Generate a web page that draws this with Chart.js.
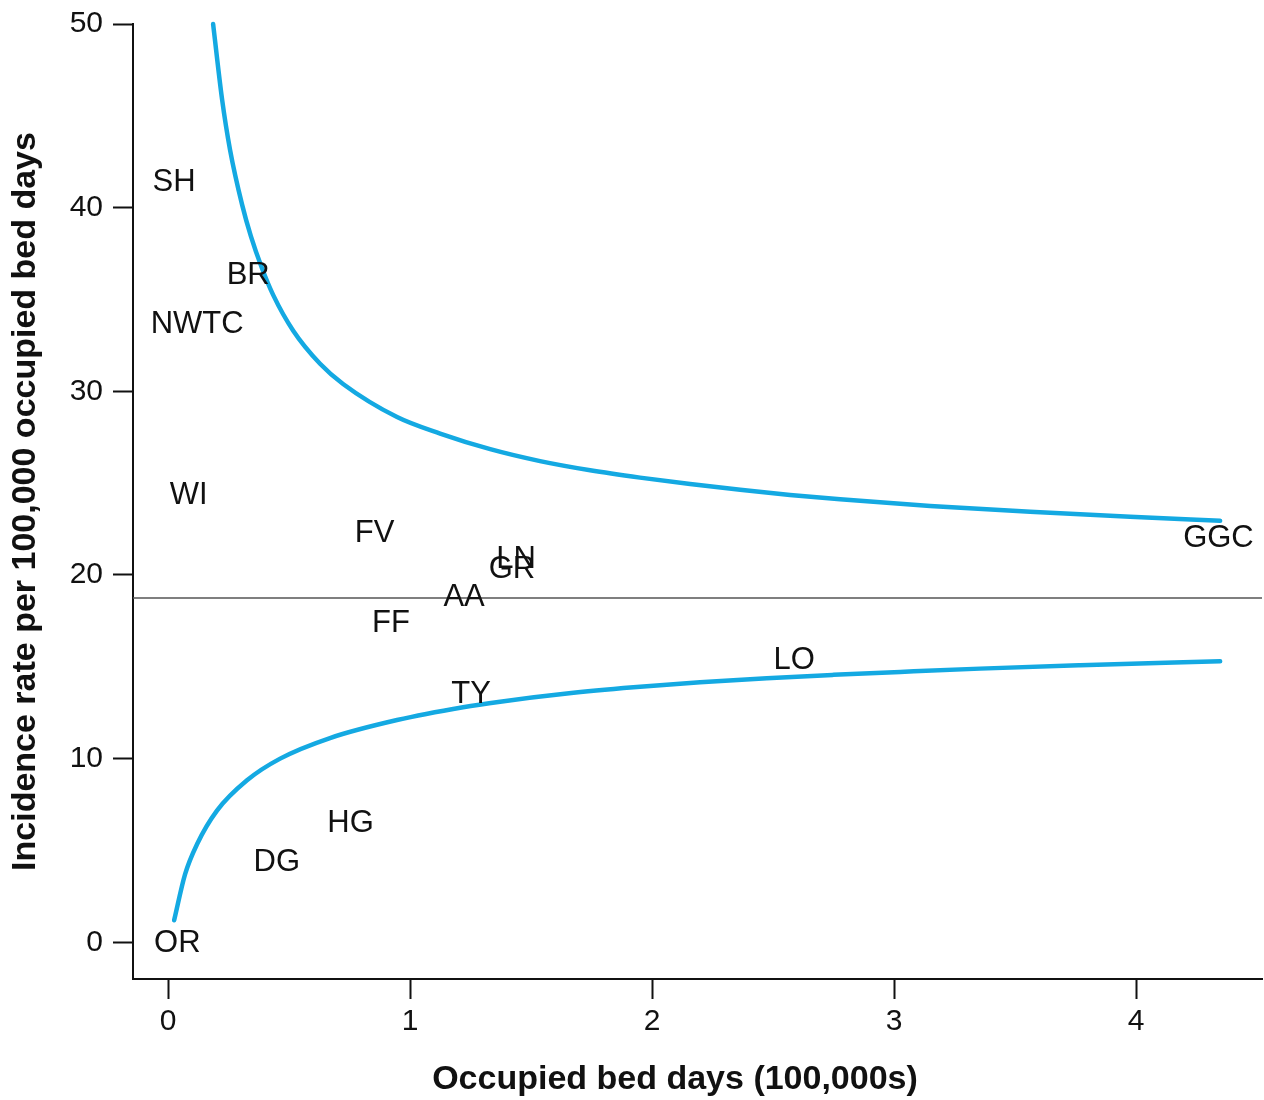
<!DOCTYPE html>
<html>
<head>
<meta charset="utf-8">
<script src="https://cdn.jsdelivr.net/npm/chart.js@4.4.1/dist/chart.umd.min.js"></script>
<style>
  html, body { margin: 0; padding: 0; background: #fff; }
  #wrap { width: 1264px; height: 1100px; }
</style>
</head>
<body>
<div id="wrap"><canvas id="funnel" width="1264" height="1100"></canvas></div>
<script>
// Hospital labels, occupied bed days (100,000s) and incidence rates
var hospitals = ['SH', 'BR', 'NWTC', 'WI', 'FV', 'LN', 'GR', 'AA', 'FF', 'GGC', 'LO', 'TY', 'HG', 'DG', 'OR'];
var bedDays = [0.025, 0.331, 0.12, 0.085, 0.853, 1.438, 1.421, 1.223, 0.921, 4.34, 2.587, 1.252, 0.754, 0.449, 0.038];
var rates = [41.45, 36.34, 33.67, 24.36, 22.3, 20.9, 20.36, 18.81, 17.39, 22.04, 15.38, 13.55, 6.55, 4.42, 0];

// Upper and lower limits
var upperX = [0.186, 0.223, 0.256, 0.306, 0.342, 0.388, 0.434, 0.517, 0.628, 0.723, 0.946, 1.124, 1.331, 1.537, 1.744, 1.95, 2.157, 2.364, 2.57, 2.777, 3.149, 3.562, 3.975, 4.347];
var upperY = [50, 45.9, 43.15, 40.15, 38.45, 36.7, 35.25, 33.3, 31.5, 30.4, 28.6, 27.7, 26.85, 26.2, 25.7, 25.3, 24.95, 24.64, 24.36, 24.12, 23.76, 23.44, 23.17, 22.95];
var lowerX = [0.025, 0.07, 0.12, 0.202, 0.326, 0.463, 0.669, 0.946, 1.219, 1.372, 1.648, 1.923, 2.198, 2.474, 2.75, 3.025, 3.355, 3.769, 4.347];
var lowerY = [1.2, 3.7, 5.35, 7.17, 8.82, 10.0, 11.12, 12.1, 12.8, 13.1, 13.54, 13.88, 14.16, 14.38, 14.56, 14.72, 14.9, 15.08, 15.3];

// Overall rate (horizontal line)
var meanRate = 18.74;

// Axis ranges and tick labels
var xMin = -0.145, xMax = 4.52;
var yMin = -2, yMax = 50;
var xTicks = [0, 1, 2, 3, 4];
var yTicks = [0, 10, 20, 30, 40, 50];
var xTitle = 'Occupied bed days (100,000s)';

var blue = '#14a9e2';
var fontFam = '"Liberation Sans", Arial, sans-serif';

function pts(xs, ys) {
    return xs.map(function (x, i) { return { x: x, y: ys[i] }; });
}

// Draws the hospital codes where the points are, and the x axis title
var labelPlugin = {
    id: 'hospitalLabels',
    afterDatasetsDraw: function (chart) {
        var ctx = chart.ctx;
        var meta = chart.getDatasetMeta(0);
        ctx.save();
        ctx.font = '31px ' + fontFam;
        ctx.fillStyle = '#111';
        ctx.textAlign = 'center';
        ctx.textBaseline = 'middle';
        meta.data.forEach(function (el, i) {
            ctx.fillText(hospitals[i], el.x, el.y + 1);
        });
        // x title sits a bit left of the plot centre in the original
        ctx.font = 'bold 34px ' + fontFam;
        ctx.fillText(xTitle, 675, 1080);
        ctx.restore();
    }
};

var ctx = document.getElementById('funnel').getContext('2d');
var chart = new Chart(ctx, {
    type: 'scatter',
    data: {
        datasets: [{
            label: 'Hospitals',
            data: pts(bedDays, rates),
            pointRadius: 0,
            showLine: false
        }, {
            label: 'Upper limit',
            data: pts(upperX, upperY),
            showLine: true,
            borderColor: blue,
            borderWidth: 4.5,
            borderCapStyle: 'round',
            pointRadius: 0,
            cubicInterpolationMode: 'monotone',
            clip: 6
        }, {
            label: 'Lower limit',
            data: pts(lowerX, lowerY),
            showLine: true,
            borderColor: blue,
            borderWidth: 4.5,
            borderCapStyle: 'round',
            pointRadius: 0,
            cubicInterpolationMode: 'monotone',
            clip: 6
        }, {
            label: 'Mean',
            data: [{ x: xMin, y: meanRate }, { x: xMax, y: meanRate }],
            showLine: true,
            borderColor: '#555',
            borderWidth: 1.5,
            pointRadius: 0
        }]
    },
    options: {
        responsive: false,
        animation: false,
        layout: { padding: { left: 0, right: 2, top: 24, bottom: 0 } },
        plugins: {
            legend: { display: false },
            tooltip: { enabled: false }
        },
        scales: {
            x: {
                type: 'linear',
                min: xMin,
                max: xMax,
                afterBuildTicks: function (scale) {
                    scale.ticks = xTicks.map(function (v) { return { value: v }; });
                },
                afterFit: function (scale) { scale.height = 121; },
                border: { display: true, color: '#111', width: 2 },
                grid: { drawOnChartArea: false, drawTicks: true, tickLength: 20, tickColor: '#111', tickWidth: 2 },
                ticks: {
                    color: '#111',
                    padding: 5,
                    maxRotation: 0,
                    font: { family: fontFam, size: 30 }
                },
                title: { display: false }
            },
            y: {
                type: 'linear',
                min: yMin,
                max: yMax,
                afterBuildTicks: function (scale) {
                    scale.ticks = yTicks.map(function (v) { return { value: v }; });
                },
                afterFit: function (scale) { scale.width = 133; },
                border: { display: true, color: '#111', width: 2 },
                grid: { drawOnChartArea: false, drawTicks: true, tickLength: 20, tickColor: '#111', tickWidth: 2 },
                ticks: {
                    color: '#111',
                    padding: 10,
                    font: { family: fontFam, size: 30, lineHeight: 0.8 }
                },
                title: {
                    display: true,
                    text: 'Incidence rate per 100,000 occupied bed days',
                    color: '#111',
                    padding: { top: 5, bottom: 0 },
                    font: { family: fontFam, size: 34, weight: 'bold' }
                }
            }
        }
    },
    plugins: [labelPlugin]
});
</script>
</body>
</html>
